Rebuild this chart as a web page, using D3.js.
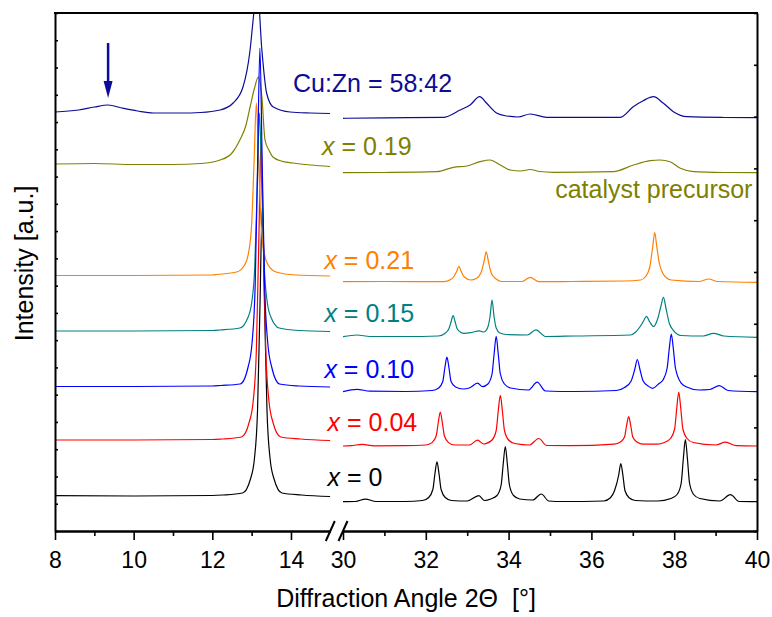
<!DOCTYPE html>
<html>
<head>
<meta charset="utf-8">
<script src="https://cdn.jsdelivr.net/npm/d3@7"></script>
<style>
  body { margin: 0; background: #fff; }
  svg { font-family: "Liberation Sans", Arial, sans-serif; }
</style>
</head>
<body>
<svg id="chart" width="772" height="617"></svg>
<script>
// ---- data: [2theta, intensity a.u.] ----
const blackLeft = [[8,35.3],[10,35],[12,35.5],[12.27,36],[12.77,38],[12.97,52],[13.07,72],[13.15,121],[13.21,222],[13.27,323],[13.33,222],[13.39,121],[13.47,72],[13.57,52],[13.77,38],[14.27,36],[15,34.5]];
const redLeft = [[8,91],[10,91],[12,91.5],[12.24,92],[12.74,94],[12.94,109],[13.04,130],[13.12,181],[13.18,286],[13.24,391],[13.30,286],[13.36,181],[13.44,130],[13.54,109],[13.74,94],[14.24,92],[15,90.5]];
const blueLeft = [[8,144.5],[10,144.5],[12,145],[12.21,145.5],[12.71,147],[12.91,164],[13.01,188],[13.09,246],[13.15,364],[13.21,483],[13.27,364],[13.33,246],[13.41,188],[13.51,164],[13.71,147],[14.21,145],[15,144]];
const tealLeft = [[8,200],[10,200],[12,200.5],[12.2,201],[12.7,203],[12.9,213],[13.0,228],[13.08,265],[13.14,342],[13.2,418],[13.26,342],[13.32,265],[13.4,228],[13.5,213],[13.7,203],[14.2,200.5],[15,199.5]];
const orangeLeft = [[8,255.5],[10,255.5],[12,256],[12.12,256.5],[12.62,259],[12.82,266],[12.92,278],[13.0,307],[13.06,367],[13.12,428],[13.18,367],[13.24,307],[13.32,278],[13.42,266],[13.62,259],[14.12,256],[15,255]];
const oliveLeft = [[8,367],[9,367.5],[10,366.5],[11,366.5],[11.7,367.5],[12.2,371],[12.5,378],[12.7,391],[12.85,405],[12.96,424],[13.08,444],[13.17,454],[13.26,434],[13.34,391],[13.45,380],[13.54,374],[13.75,370],[14.05,368],[14.5,366],[15,364.5]];
const navyLeft = [[8.0,419],[8.6,421],[9.0,424],[9.35,426],[9.7,423],[10.1,420],[10.5,418],[11.2,418],[11.7,418.5],[12.2,421],[12.53,428],[12.78,444],[12.96,481],[13.03,508],[13.14,545],[13.26,481],[13.38,438],[13.55,424],[13.98,419],[14.5,418],[15,417.5]];

const blackRight = [[30,29.3],[30.3,29.5],[30.54,31.9],[30.8,29.5],[31.5,29.5],[31.92,30.5],[32.07,33.5],[32.17,41.5],[32.22,57],[32.27,69.2],[32.32,57],[32.37,41.5],[32.47,33.5],[32.62,30.5],[33.0,30],[33.28,35.3],[33.42,30.5],[33.57,32],[33.72,35.5],[33.82,46],[33.87,67],[33.92,84.5],[33.97,67],[34.02,46],[34.12,35.5],[34.27,32],[34.58,31],[34.79,37],[34.97,30],[35.3,29.5],[36.3,30],[36.46,33.2],[36.56,40.5],[36.66,56],[36.71,67.5],[36.76,56],[36.81,40.5],[36.91,33.2],[37.06,30.5],[37.6,30],[37.92,32.5],[38.07,36.5],[38.17,48],[38.22,72],[38.27,91.3],[38.32,72],[38.37,48],[38.47,36.5],[38.62,32.5],[39.1,30],[39.36,36.3],[39.57,29.5],[40,29.3]];
const redRight = [[30,85],[30.2,85.3],[30.46,86.7],[30.75,85.2],[31.5,85.3],[32.0,86],[32.15,88.4],[32.25,95],[32.3,108],[32.35,118.9],[32.4,108],[32.45,95],[32.55,88.4],[32.7,86],[33.05,86],[33.25,90.8],[33.4,87],[33.45,87.5],[33.6,91],[33.7,100.5],[33.75,120],[33.8,135.6],[33.85,120],[33.9,100.5],[34.0,91],[34.15,87.5],[34.5,86],[34.73,92.5],[34.92,85.5],[35.5,85.3],[36.55,86.8],[36.7,89],[36.8,94],[36.85,105.5],[36.9,114.5],[36.95,105.5],[37.0,94],[37.1,89],[37.25,86.8],[37.6,86.8],[37.76,88.5],[37.91,92.5],[38.01,102],[38.06,122],[38.11,139],[38.16,122],[38.21,102],[38.31,92.5],[38.46,88.5],[39.0,86],[39.24,88.8],[39.5,85.3],[40,85]];
const blueRight = [[30,139.3],[30.34,141.7],[30.65,139.8],[31.5,139.5],[32.16,140.5],[32.31,143],[32.41,149.5],[32.46,163],[32.51,173.9],[32.56,163],[32.61,149.5],[32.72,144],[32.9,142],[33.05,143],[33.25,147.8],[33.37,144.4],[33.5,147],[33.6,157],[33.65,177],[33.7,194.6],[33.75,177],[33.8,157],[33.9,147],[34.05,143],[34.48,141],[34.69,148.8],[34.89,140],[35.6,139.5],[36.6,140.5],[36.8,143.5],[36.96,150],[37.05,162],[37.11,171.5],[37.17,162],[37.25,150],[37.37,145],[37.48,142.7],[37.62,147],[37.73,151],[37.83,163],[37.88,182],[37.93,197],[37.98,182],[38.03,163],[38.17,147.8],[38.3,144],[38.6,141],[38.86,141.5],[39.09,145.4],[39.3,140.5],[40,139.3]];
const tealRight = [[30,194.3],[30.34,196],[30.65,194.5],[31.5,194.5],[32.3,195],[32.46,197.5],[32.56,202.5],[32.61,209],[32.66,215.3],[32.71,209],[32.76,202],[32.85,198.5],[32.92,197.7],[33.1,198.5],[33.29,200.1],[33.4,199],[33.49,203],[33.55,214],[33.6,230.9],[33.65,214],[33.7,203],[33.79,198],[33.95,196.5],[34.45,196],[34.66,201.1],[34.89,194.5],[35.6,195],[36.94,196],[37.07,199],[37.17,204],[37.26,210],[37.33,214.7],[37.41,209],[37.5,204.5],[37.6,212],[37.68,225],[37.74,233.7],[37.8,223],[37.88,208],[37.97,201.1],[38.17,195.5],[38.7,195],[38.95,197.7],[39.2,195],[40,193.7]];
const orangeRight = [[30,249.3],[31,249.5],[32.43,249.3],[32.55,250.5],[32.68,254.5],[32.75,260],[32.8,264.6],[32.85,260],[32.93,254],[33.09,251],[33.22,252.5],[33.33,258],[33.41,270],[33.46,279.2],[33.51,270],[33.58,258],[33.7,252],[33.83,249.5],[34.32,249.5],[34.52,253.7],[34.73,249.3],[35.5,249.5],[36.8,250],[37.19,251],[37.31,254.5],[37.41,264],[37.48,284],[37.53,298.5],[37.58,284],[37.64,268],[37.72,258],[37.82,253],[37.93,251],[38.6,249.5],[38.83,252],[39.05,249.5],[40,248.7]];
const oliveRight = [[30,358.3],[31,358.5],[32.26,359.3],[32.67,363.7],[32.99,365],[33.31,369.3],[33.55,371],[33.8,366],[34.04,361],[34.3,360],[34.52,361.5],[34.75,359.5],[35.08,358.7],[36.53,359.3],[37.02,366],[37.42,370.3],[37.66,371],[37.9,369.3],[38.15,362.7],[38.47,359.3],[39.2,358.5],[40,358.3]];
const navyRight = [[30,412.7],[31,413.2],[32.42,413.7],[32.83,421],[33.07,426],[33.3,434.3],[33.47,427.7],[33.72,417.7],[33.96,415],[34.23,414],[34.52,417],[34.92,413.7],[36.7,413.7],[37.01,424.3],[37.25,430.3],[37.5,434.3],[37.74,427.7],[37.98,419.3],[38.31,414.3],[39.2,413.5],[40,413.3]];

const sampleNames = ["0", "0.04", "0.10", "0.15", "0.21", "0.19", "Cu:Zn = 58:42"];
const leftMajor = [8, 10, 12, 14];
const leftMinor = [9, 11, 13];
const rightMajor = [30, 32, 34, 36, 38, 40];
const rightMinor = [31, 33, 35, 37, 39];

// ---- setup ----
const svg = d3.select("#chart");
const xL = d3.scaleLinear().domain([8, 15]).range([55, 330.3]);
const xR = d3.scaleLinear().domain([30, 40]).range([343, 757]);
const y = d3.scaleLinear().domain([0, 518]).range([531, 13]);

const colors = ["#000000", "#ff0000", "#0000ff", "#008080", "#ff8000", "#808000", "#0c0c96"];
const series = [
    { left: blackLeft, right: blackRight },
    { left: redLeft, right: redRight },
    { left: blueLeft, right: blueRight },
    { left: tealLeft, right: tealRight },
    { left: orangeLeft, right: orangeRight },
    { left: oliveLeft, right: oliveRight },
    { left: navyLeft, right: navyRight }
].map((s, i) => ({ ...s, name: sampleNames[i], color: colors[i] }));

const defs = svg.append("defs");
defs.append("clipPath").attr("id", "clipL").append("rect")
    .attr("x", xL(8)).attr("y", y(518))
    .attr("width", xL(15) - xL(8)).attr("height", y(0) - y(518));
defs.append("clipPath").attr("id", "clipR").append("rect")
    .attr("x", xR(30)).attr("y", y(518))
    .attr("width", xR(40) - xR(30)).attr("height", y(0) - y(518));

const lineL = d3.line().x(d => xL(d[0])).y(d => y(d[1])).curve(d3.curveMonotoneX);
const lineR = d3.line().x(d => xR(d[0])).y(d => y(d[1])).curve(d3.curveMonotoneX);

// traces, back to front
const gL = svg.append("g").attr("clip-path", "url(#clipL)");
const gR = svg.append("g").attr("clip-path", "url(#clipR)");
[6, 5, 0, 1, 4, 3, 2].forEach(i => {
    const s = series[i];
    gL.append("path").attr("d", lineL(s.left))
        .attr("fill", "none").attr("stroke", s.color).attr("stroke-width", 1.2);
    gR.append("path").attr("d", lineR(s.right))
        .attr("fill", "none").attr("stroke", s.color).attr("stroke-width", 1.2);
});

// ---- axes ----
const styleAxis = g => {
    g.attr("font-family", null).attr("font-size", 23);
    g.select(".domain").attr("stroke-width", 2);
    g.selectAll(".tick line").attr("stroke-width", 1.6);
    g.selectAll(".tick text").attr("fill", "#000");
};

[[xL, leftMajor, leftMinor], [xR, rightMajor, rightMinor]].forEach(([sc, major, minor]) => {
    svg.append("g").attr("transform", `translate(0,${y(0)})`)
        .call(d3.axisBottom(sc).tickValues(minor).tickSize(5).tickFormat("").tickSizeOuter(0))
        .call(styleAxis);
    svg.append("g").attr("transform", `translate(0,${y(0)})`)
        .call(d3.axisBottom(sc).tickValues(major).tickSize(9).tickPadding(12)
            .tickFormat(d3.format("d")).tickSizeOuter(0))
        .call(styleAxis);
});

const leftTicks = d3.range(0, 20).map(i => i * 518 / 19);
const rightTicks = d3.range(0, 11).map(i => i * 51.8);
svg.append("g").attr("transform", `translate(${xL(8)},0)`)
    .call(d3.axisRight(y).tickValues(leftTicks).tickSize(3).tickFormat("").tickSizeOuter(0))
    .call(styleAxis);
svg.append("g").attr("transform", `translate(${xR(40)},0)`)
    .call(d3.axisLeft(y).tickValues(rightTicks).tickSize(3).tickFormat("").tickSizeOuter(0))
    .call(styleAxis);

// top frame
svg.append("line")
    .attr("x1", xL(8) - 1).attr("x2", xR(40) + 1)
    .attr("y1", y(518)).attr("y2", y(518))
    .attr("stroke", "#000").attr("stroke-width", 2);

// break marks
[xL(15), xR(30)].forEach(px => {
    svg.append("line")
        .attr("x1", px - 4.5).attr("y1", y(0) + 10)
        .attr("x2", px + 4.5).attr("y2", y(0) - 10)
        .attr("stroke", "#000").attr("stroke-width", 2);
});

// axis titles
svg.append("text")
    .attr("transform", "translate(33,263.5) rotate(-90)")
    .attr("text-anchor", "middle").attr("font-size", 25)
    .text("Intensity [a.u.]");
svg.append("text")
    .attr("x", (xL(8) + xR(40)) / 2).attr("y", 607)
    .attr("text-anchor", "middle").attr("font-size", 25)
    .style("white-space", "pre")
    .text("Diffraction Angle 2\u0398  [\u00b0]");

// ---- sample labels ----
const labelPos = [[14.93, 45], [14.93, 100], [14.85, 153], [14.85, 209], [14.85, 262], [14.79, 376]];
labelPos.forEach((p, i) => {
    const t = svg.append("text")
        .attr("x", xL(p[0])).attr("y", y(p[1]))
        .attr("font-size", 25).attr("fill", series[i].color);
    t.append("tspan").attr("font-style", "italic").text("x");
    t.append("tspan").text(" = " + series[i].name);
});
svg.append("text")
    .attr("x", xL(14.05)).attr("y", y(439))
    .attr("font-size", 25).attr("fill", series[6].color)
    .text(series[6].name);
svg.append("text")
    .attr("x", xR(39.89)).attr("y", y(333))
    .attr("text-anchor", "end")
    .attr("font-size", 25).attr("fill", series[5].color)
    .text("catalyst precursor");

// arrow at the 9.35 deg reflection
const ax = xL(9.35);
svg.append("line")
    .attr("x1", ax).attr("x2", ax)
    .attr("y1", y(488)).attr("y2", y(446))
    .attr("stroke", series[6].color).attr("stroke-width", 2.5);
svg.append("path")
    .attr("d", `M${ax - 4.5},${y(450)}L${ax + 4.5},${y(450)}L${ax},${y(433)}Z`)
    .attr("fill", series[6].color);
</script>
</body>
</html>
